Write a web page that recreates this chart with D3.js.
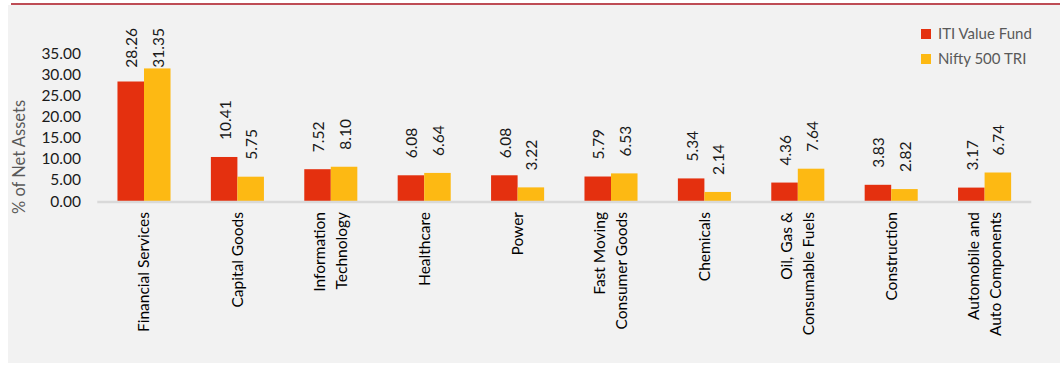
<!DOCTYPE html>
<html lang="en">
<head>
    <meta charset="UTF-8">
    <title>Sector allocation</title>
    <script src="https://cdn.jsdelivr.net/npm/d3@7"></script>
    <style>
        body{
            margin:0;
            background:#fff;
            font-family: Lato, "Open Sans", sans-serif;
        }
        svg text{ font-family: Lato, "Open Sans", sans-serif; }
    </style>
</head>
<body>
<svg id="chart" width="1060" height="373"></svg>
<script>
    // data
    var sectors = [
        ['Financial Services'],
        ['Capital Goods'],
        ['Information', 'Technology'],
        ['Healthcare'],
        ['Power'],
        ['Fast Moving', 'Consumer Goods'],
        ['Chemicals'],
        ['Oil, Gas &', 'Consumable Fuels'],
        ['Construction'],
        ['Automobile and', 'Auto Components']
    ];
    var fundValues  = [28.26, 10.41, 7.52, 6.08, 6.08, 5.79, 5.34, 4.36, 3.83, 3.17];
    var indexValues = [31.35, 5.75, 8.10, 6.64, 3.22, 6.53, 2.14, 7.64, 2.82, 6.74];
    var seriesNames = ['ITI Value Fund', 'Nifty 500 TRI'];
    var yTicks = [0, 5, 10, 15, 20, 25, 30, 35];

    var colors = ['#e4300f', '#fdb913'];
    var svg = d3.select('#chart');

    // panel + top rule
    svg.append('rect').attr('x', 8).attr('y', 5).attr('width', 1052).attr('height', 358).attr('fill', '#f2f2f2');
    svg.append('line').attr('x1', 11).attr('x2', 1060).attr('y1', 4).attr('y2', 4)
        .attr('stroke', '#a8111c').attr('stroke-width', 1.6);

    var x = d3.scaleBand()
                .domain(d3.range(sectors.length))
                .range([97.3, 1031.3]);
    var y = d3.scaleLinear()
                .domain([0, 35])
                .range([201, 53]);
    var barW = x.bandwidth() * 0.284;

    //y axis labels
    svg.append('g').selectAll('text')
        .data(yTicks)
        .enter().append('text')
        .attr('x', 81)
        .attr('y', function(d){ return y(d); })
        .attr('dy', '0.36em')
        .attr('text-anchor', 'end')
        .attr('font-size', 15.5)
        .attr('fill', '#1a1a1a')
        .text(function(d){ return d3.format('.2f')(d); });

    svg.append('text')
        .attr('transform', 'translate(25,157) rotate(-90)')
        .attr('text-anchor', 'middle')
        .attr('font-size', 16.5)
        .attr('fill', '#595959')
        .text('% of Net Assets');

    // bars
    var series = [fundValues, indexValues];
    series.forEach(function(vals, s){
        var g = svg.append('g');
        g.selectAll('rect')
            .data(vals)
            .enter().append('rect')
            .attr('x', function(d, i){ return x(i) + x.bandwidth() / 2 - barW + s * barW; })
            .attr('y', function(d){ return y(d); })
            .attr('width', barW)
            .attr('height', function(d){ return y(0) - y(d); })
            .attr('fill', colors[s]);

        g.selectAll('text')
            .data(vals)
            .enter().append('text')
            .attr('font-size', 15.5)
            .attr('fill', '#1a1a1a')
            .text(function(d){ return d3.format('.2f')(d); })
            .each(function(d, i){
                var len = this.getComputedTextLength();
                var bottom = Math.max(y(d) - 17, 28 + len);
                var cx = x(i) + x.bandwidth() / 2 - barW / 2 + s * barW + 1;
                d3.select(this).attr('transform', 'translate(' + cx + ',' + bottom + ') rotate(-90)')
                    .attr('dy', '0.35em');
            });
    });

    // baseline
    svg.append('line')
        .attr('x1', x.range()[0]).attr('x2', x.range()[1])
        .attr('y1', y(0) + 1).attr('y2', y(0) + 1)
        .attr('stroke', '#d9d9d9').attr('stroke-width', 2.5);

    // category labels
    var cat = svg.append('g').selectAll('text')
        .data(sectors)
        .enter().append('text')
        .attr('text-anchor', 'end')
        .attr('font-size', 15.5)
        .attr('fill', '#000')
        .attr('transform', function(d, i){
            var cx = x(i) + x.bandwidth() / 2 - (d.length - 1) * 11;
            return 'translate(' + cx + ',212) rotate(-90)';
        });
    cat.selectAll('tspan')
        .data(function(d){ return d; })
        .enter().append('tspan')
        .attr('x', 0)
        .attr('dy', function(d, i){ return i === 0 ? '0.35em' : 22; })
        .text(function(d){ return d; });

    // legend
    var leg = svg.append('g').selectAll('g')
        .data(seriesNames)
        .enter().append('g')
        .attr('transform', function(d, i){ return 'translate(921,' + (29 + i * 25) + ')'; });
    leg.append('rect').attr('width', 10).attr('height', 10)
        .attr('fill', function(d, i){ return colors[i]; });
    leg.append('text').attr('x', 17).attr('y', 5).attr('dy', '0.35em')
        .attr('font-size', 15).attr('fill', '#595959')
        .text(function(d){ return d; });
</script>
</body>
</html>
